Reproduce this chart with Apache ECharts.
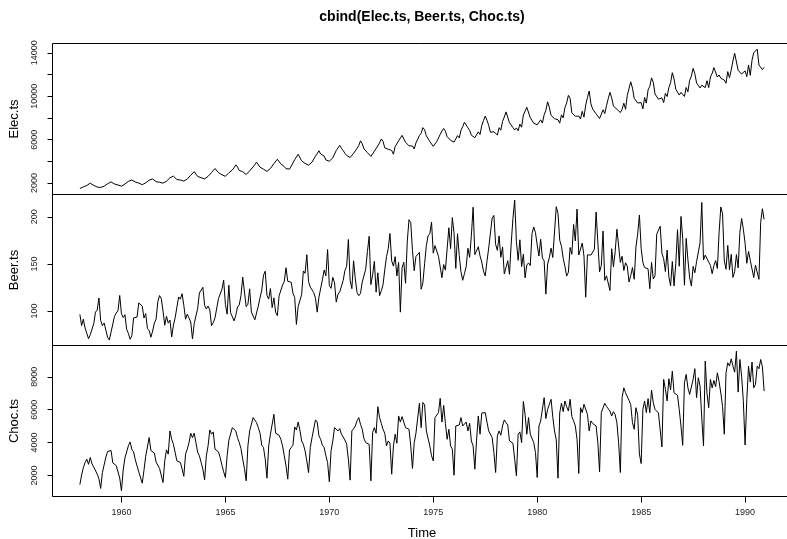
<!DOCTYPE html>
<html><head><meta charset="utf-8">
<script src="https://cdn.jsdelivr.net/npm/echarts@6/dist/echarts.min.js"></script>
<style>html,body{margin:0;padding:0;background:#fff}#c{width:787px;height:539px}</style>
</head><body><div id="c"></div>
<script>
const startYear = 1958;
const freq = 12;
const elec = [
1497,1463,1648,1595,1777,1824,1994,1835,1787,1699,1633,1645,
1597,1577,1709,1756,1936,2052,2105,2016,1914,1925,1824,1765,
1721,1752,1914,1857,2159,2195,2287,2276,2096,2055,2004,1924,
1851,1839,2019,1937,2270,2251,2382,2364,2129,2110,2072,1980,
1995,1932,2171,2162,2489,2424,2641,2630,2324,2412,2284,2186,
2184,2144,2379,2383,2717,2774,3051,2891,2613,2600,2493,2410,
2390,2463,2616,2734,2970,3125,3342,3207,2964,2919,2764,2732,
2622,2698,2950,2895,3200,3408,3679,3473,3154,3107,3052,2918,
2786,2739,3125,3033,3486,3661,3927,3851,3456,3390,3280,3166,
3080,3069,3340,3310,3798,3883,4191,4213,3766,3628,3520,3322,
3250,3287,3552,3440,4153,4265,4655,4492,4051,3967,3807,3639,
3647,3560,3929,3858,4485,4697,4977,4675,4596,4491,4127,4144,
4014,3994,4320,4400,5002,5091,5471,5193,4997,4737,4546,4498,
4350,4206,4743,4582,5191,5457,5891,5618,5158,5030,4800,4654,
4453,4440,4945,4788,5425,5706,6061,5846,5242,5408,5114,5042,
5008,4657,5359,5193,5891,5980,6390,6366,5756,5640,5429,5398,
5413,5141,5695,5554,6369,6592,7107,6917,6353,6205,5830,5646,
5379,5489,5824,5907,6482,6795,7028,6776,6274,6362,5940,5958,
5769,5887,6367,6165,6868,7201,7601,7581,7090,6841,6408,6435,
6176,6138,6717,6470,7312,7763,8171,7788,7311,6679,6704,6724,
6552,6427,7105,6869,7683,8082,8555,8386,7553,7398,7112,6886,
7077,6820,7426,7143,8261,8240,8977,8991,8026,7911,7510,7381,
7366,7414,7824,7524,8279,8707,9486,8973,8231,8206,7927,7999,
7834,7521,8284,7999,8940,9381,10078,9796,8471,8572,8150,8168,
8166,7903,8606,8071,9178,9873,10476,9296,8818,8697,8381,8293,
7942,8001,8744,8397,9115,9773,10358,9849,9083,9143,8800,8741,
8492,8795,9354,8796,10072,10174,11326,10744,9806,9740,9373,9244,
9407,8827,9880,9364,10580,10899,11687,11280,10208,10212,9725,9721,
9846,9407,10265,9970,10801,11246,12167,11578,10645,10613,10104,10348,
10263,9973,10803,10409,11458,11845,12559,12070,11221,11338,10761,11012,
10923,10790,11427,10788,11772,12104,12634,12772,11764,11956,11646,11750,
11485,11198,12265,11704,12419,13259,13945,13839,12387,12546,12038,11977,
12336,11793,12877,11923,13306,13988,14002,14338,12867,12761,12449,12658
];
const beer = [
96.3,84.4,91.2,81.9,80.5,70.4,74.8,75.9,86.3,98.7,100.9,113.8,
89.8,84.4,87.2,85.6,72,69.2,77.5,78.1,94.3,97.7,100.2,116.4,
97.1,93,96,80.5,76.1,69.9,73.6,92.6,94.2,93.5,108.5,109.4,
105.1,92.5,97.1,81.4,79.1,72.1,78.7,87.1,91.4,109.9,116.3,113,
100,84.8,94.3,87.1,90.3,72.4,84.9,92.7,92.2,114.9,112.5,118.3,
106,91.2,96.6,96.3,88.2,70.2,86.5,88.2,102.8,119.1,119.2,125.1,
106.1,102.1,105.2,101,84.3,87.5,92.7,94.4,113,113.9,122.9,132.7,
106.9,96.6,127.3,98.2,100.2,89.4,95.3,104.2,106.4,116.2,135.9,134,
104.6,107.1,123.5,98.8,98.6,90.6,89.1,105.2,114,122.1,138,142.2,
116.4,112.6,123.8,103.6,113.9,98.6,95,116,113.9,127.5,131.4,145.9,
131.5,131,130.5,118.9,114.3,85.7,104.6,105.1,117.3,142.5,140,159.8,
131.2,125.4,126.5,119.4,113.5,98.7,114.5,113.8,133.1,143.4,137.3,165.2,
126.9,124,135.7,130,109.4,117.8,120.3,121,132.3,142.9,147.4,175.9,
132.6,123.7,153.3,134,119.6,116.2,118.6,130.7,129.3,144.4,163.2,179.4,
128.1,138.4,152.7,120,140.5,116.2,121.4,127.8,143.6,157.6,166.2,182.3,
153.1,147.6,157.7,137.2,151.5,98.7,145.8,151.7,129.4,174.1,197,193.9,
164.1,142.8,157.9,159.2,162.2,123.1,130,150.1,169.4,179.7,182.1,194.3,
161.4,169.4,168.8,158.1,158.5,135.3,149.3,143.4,142.2,188.4,166.2,199.2,
182.7,145.2,182.1,158.7,141.6,132.6,139.6,147,166.6,157,180.4,210.2,
159.8,157.8,168.2,158.4,152,142.2,137.2,152.6,166.8,165.6,198.6,201.5,
170.7,164.4,179.7,157,168,139.3,138.6,153.4,138.9,172.1,198.4,217.8,
173.7,153.8,175.6,147.1,160.3,135.2,148.8,151,148.2,182.2,189.2,183.1,
170,158.4,176.1,156.2,153.2,117.9,149.8,156.6,166.7,156.8,158.6,210.8,
203.6,175.2,168.7,155.9,147.3,137,141.1,167.4,160.2,191.9,174.4,208.2,
159.4,161.1,172.1,158.4,114.6,159.6,159.7,159.4,160.7,165.5,205,205.2,
141.6,148.1,184.9,132.5,137.3,135.5,121.7,166.1,146.8,162.8,186.8,185.5,
151.5,158.1,143,151.2,147.6,130.7,137.5,146.1,133.6,167.9,181.9,202,
166.5,151.3,146.2,148.3,144.7,123.6,151.6,133.9,137.4,181.6,182,190,
161.2,155.5,141.9,164.6,136.2,126.8,152.5,126.6,150.1,186.3,147.5,200.4,
177.2,127.4,177.1,154.4,135.2,126.4,147.3,140.6,152.3,151.2,172.2,215.3,
154.1,159.3,160.4,151.9,148.4,139.6,148.2,153.5,145.1,183.7,210.5,203.3,
153.3,144.3,169.6,143.7,160.1,135.6,141.8,159.9,145.7,183.5,198.2,186.8,
172,150.6,163.3,153.7,152.9,135.5,148.5,148.4,133.6,194.1,208.6,197.3
];
const choc = [
1451,2037,2477,2785,2994,2681,3098,2708,2517,2445,2087,1801,
1216,2173,2286,3121,3458,3511,3524,2767,2744,2603,2527,1846,
1066,2327,3066,3048,3806,4042,3583,3438,2957,2885,2217,2154,
1535,2322,3171,3076,4306,3519,3461,3366,2820,2725,2429,2384,
1578,2890,3560,3300,4710,4200,3900,3800,2890,2890,2790,2400,
1950,3300,3600,4000,4570,4300,4570,4000,3400,3200,2790,2385,
1740,3200,3800,4770,4510,4650,3600,3640,3440,3090,2630,2225,
1880,3200,4140,4160,4910,4950,4710,4300,4000,3640,2990,2430,
1680,3800,4710,4650,5520,5580,5210,4910,4570,3840,3700,2990,
1840,3800,4510,4450,5720,4570,4470,4450,4200,3800,3200,2590,
1780,3560,3700,3840,4950,4770,5250,4770,4100,3900,3500,2890,
2180,3700,4300,4400,5380,5250,4410,4200,3840,3700,3200,2790,
1620,3500,4100,4910,5010,4710,4850,4510,4570,4160,3900,2990,
1720,4710,4850,5010,5320,5520,5110,4810,4240,4000,4100,3900,
1680,4610,4910,4570,6180,5520,5170,4810,4570,3800,4100,3960,
2080,3800,4510,3960,5620,5250,5580,5520,4910,4910,4810,3800,
2430,4000,4570,4650,6390,4910,6440,6300,4710,4650,3800,3200,
2890,5520,5620,5820,6690,5250,6260,5170,4200,4810,3800,3600,
2020,5010,5110,5070,5520,5010,5050,5250,4710,5170,4100,3800,
2386,4150,5620,4510,5800,5920,5820,5250,4710,4610,4300,3400,
2184,4410,4710,4450,5010,5380,5210,5070,4100,4040,3960,2990,
1982,4510,4650,4000,6500,5720,4510,5520,4510,4570,4000,3400,
1880,5010,5320,5380,6730,5460,6020,5980,6630,5560,4710,4160,
1840,5800,6400,5880,6530,6180,5920,6630,5580,5320,5010,4200,
2124,6120,5820,6330,6430,5720,4710,5320,5170,5050,5010,4000,
2224,5820,5820,6390,6200,6180,5920,5620,5880,5700,5200,4000,
2184,6730,7330,7030,7000,6570,6300,5210,4810,6120,5660,3300,
2729,6020,6530,5820,6670,5820,7190,6430,6020,5920,5800,5800,
3739,7840,7240,6530,7880,7200,8345,7030,7030,6870,6000,5000,
3840,7640,8140,7330,6930,7030,7840,8490,6730,7940,7440,5500,
3800,8950,7000,6120,7840,7330,7780,7400,8240,7700,7000,6200,
4507,8240,8850,8650,9090,8650,8280,9560,7070,9050,8040,6500,
3860,6630,8650,7680,8890,7330,7540,8650,8490,9050,8600,7130
];
const xTicks = [1960,1965,1970,1975,1980,1985,1990];
const elecTicks = [2000,4000,6000,8000,10000,12000,14000];
const elecLabels = [2000,6000,10000,14000];
const beerTicks = [100,150,200];
const chocTicks = [2000,4000,6000,8000];
const panelNames = ['Elec.ts','Beer.ts','Choc.ts'];
const mainTitle = 'cbind(Elec.ts, Beer.ts, Choc.ts)';
const xName = 'Time';

const FONT = '"Liberation Sans", Arial, Helvetica, sans-serif';
const seriesData = [elec, beer, choc];
const yRanges = [[948,14853],[63.26,223.74],[726,9900]];
const yTickSets = [elecTicks, beerTicks, chocTicks];
const yLabelSets = [elecLabels, beerTicks, chocTicks];
const tops = [43.5, 194.5, 345.5];
const H = 151;
const plain = v => String(Math.round(v));

const chart = echarts.init(document.getElementById('c'), null, {renderer:'canvas'});
const grids = [], xAxes = [], yAxes = [], series = [];
for (let i = 0; i < 3; i++) {
  grids.push({left:52.5, top:tops[i], width:739, height:H, show:true, borderColor:'#000', borderWidth:1,
    backgroundColor:'transparent', containLabel:false, outerBoundsMode:'none'});
  const isBottom = i === 2;
  xAxes.push({
    gridIndex:i, type:'value', min:1956.683, max:1992.233,
    axisLine:{show:false}, splitLine:{show:false},
    axisTick:{show:isBottom, length:6, customValues:xTicks, lineStyle:{color:'#000', width:1}},
    axisLabel:{show:isBottom, customValues:xTicks, formatter:plain, margin:12, fontSize:9, color:'#222', fontFamily:FONT}
  });
  yAxes.push({
    gridIndex:i, type:'value', min:yRanges[i][0], max:yRanges[i][1],
    axisLine:{show:false}, splitLine:{show:false},
    axisTick:{show:true, length:5, customValues:yTickSets[i], lineStyle:{color:'#000', width:1}},
    axisLabel:{customValues:yLabelSets[i], formatter:plain, rotate:90, margin:13, fontSize:9, color:'#222', fontFamily:FONT},
    name:panelNames[i], nameLocation:'middle', nameGap:31.5, nameRotate:90,
    nameTextStyle:{fontSize:13, color:'#000', fontFamily:FONT}
  });
  series.push({
    type:'line', xAxisIndex:i, yAxisIndex:i, showSymbol:false, symbol:'none',
    lineStyle:{color:'#000', width:1}, silent:true,
    data: seriesData[i].map((v,k) => [startYear + k / freq, v])
  });
}
chart.setOption({
  animation:false,
  backgroundColor:'#fff',
  grid:grids, xAxis:xAxes, yAxis:yAxes, series:series,
  graphic:[
    {type:'text', x:422, y:17, style:{text:mainTitle, textAlign:'center', textVerticalAlign:'middle', font:'bold 14px ' + FONT, fill:'#000'}},
    {type:'text', x:422, y:533, style:{text:xName, textAlign:'center', textVerticalAlign:'middle', font:'13px ' + FONT, fill:'#000'}}
  ]
});
</script>
</body></html>
